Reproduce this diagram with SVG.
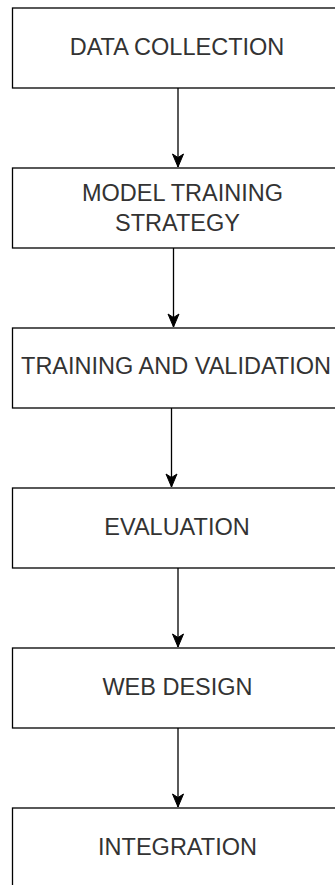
<svg xmlns="http://www.w3.org/2000/svg" width="335" height="885" viewBox="0 0 335 885">
<style>
.box{fill:#ffffff;stroke:#000000;stroke-width:1.3}
.lbl{font-family:"Liberation Sans",Arial,sans-serif;font-size:23.5px;fill:#333333;text-anchor:middle}
.edge{fill:none;stroke:#000000;stroke-width:1.3}
</style>
<defs>
<marker id="arr" markerUnits="userSpaceOnUse" markerWidth="16" markerHeight="16" viewBox="0 0 16 16" refX="14" refY="8" orient="auto">
<path d="M1,2.5 L14,8 L1,13.5 L4.5,8 Z" fill="#000000" stroke="#000000" stroke-width="1"/>
</marker>
</defs>
<rect width="335" height="885" fill="#ffffff"/>
<g id="connectors">
<path class="edge" d="M178,88 L178,167" marker-end="url(#arr)"/>
<path class="edge" d="M173.5,248 L173.5,327" marker-end="url(#arr)"/>
<path class="edge" d="M171.5,408 L171.5,487" marker-end="url(#arr)"/>
<path class="edge" d="M178,568 L178,647" marker-end="url(#arr)"/>
<path class="edge" d="M178,728 L178,807" marker-end="url(#arr)"/>
</g>
<g id="data-collection">
<rect class="box" x="12.5" y="8" width="330" height="80"/>
<text class="lbl" x="177" y="55">DATA COLLECTION</text>
</g>
<g id="model-training-strategy">
<rect class="box" x="12.5" y="168" width="330" height="80"/>
<text class="lbl" x="182.5" y="200.5">MODEL TRAINING</text>
<text class="lbl" x="177.5" y="231">STRATEGY</text>
</g>
<g id="training-validation">
<rect class="box" x="12.5" y="328" width="330" height="80"/>
<text class="lbl" x="176" y="373.5">TRAINING AND VALIDATION</text>
</g>
<g id="evaluation">
<rect class="box" x="12.5" y="488" width="330" height="80"/>
<text class="lbl" x="177" y="535">EVALUATION</text>
</g>
<g id="web-design">
<rect class="box" x="12.5" y="648" width="330" height="80"/>
<text class="lbl" x="177.5" y="695">WEB DESIGN</text>
</g>
<g id="integration">
<rect class="box" x="12.5" y="808" width="330" height="80"/>
<text class="lbl" x="177.5" y="855">INTEGRATION</text>
</g>
</svg>
